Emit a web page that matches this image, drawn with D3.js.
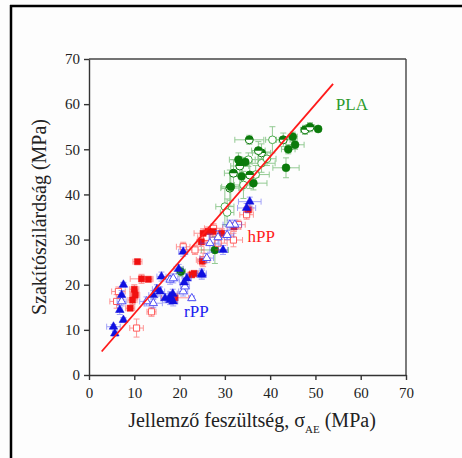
<!DOCTYPE html>
<html>
<head>
<meta charset="utf-8">
<script src="https://cdn.jsdelivr.net/npm/d3@7"></script>
<style>
  html, body { margin: 0; padding: 0; background: #fdfdfd; }
  svg { display: block; }
  svg text { font-family: 'Liberation Serif', 'Times New Roman', 'DejaVu Serif', serif; }
  .tick text { font-size: 15px; fill: #222; }
  .tick line, .domain { stroke: #333; stroke-width: 1.4; }
</style>
</head>
<body>
<svg id="chart" width="462" height="458"></svg>
<script>
// [x, y, xErr, yErr]
const plaFilled = [
  [43.5, 45.9, 2.9, 2.2], [44.0, 50.0, 1.5, 1.0], [45.5, 51.0, 2.0, 1.0],
  [45.0, 52.8, 1.0, 1.0], [50.6, 54.5, 0.5, 0.5], [36.3, 42.5, 3.0, 1.5],
  [33.7, 44.0, 2.5, 3.0], [31.3, 41.7, 2.0, 3.0], [34.5, 47.2, 1.5, 1.0],
  [27.8, 27.7, 3.0, 3.0], [20.3, 22.9, 1.0, 1.0], [33.0, 47.7, 2.0, 1.5]
];
const plaHalf = [
  [35.4, 52.1, 3.2, 1.0], [47.7, 54.3, 1.0, 1.0], [48.8, 54.9, 1.0, 1.0],
  [42.9, 52.1, 1.5, 1.5], [38.1, 49.2, 2.0, 2.0], [31.9, 44.7, 2.0, 3.0],
  [33.3, 46.3, 2.0, 2.0], [31.1, 41.4, 2.0, 4.0], [35.5, 44.3, 2.0, 3.0],
  [37.4, 49.7, 1.5, 2.0]
];
const plaOpen = [
  [40.5, 52.1, 1.5, 2.9], [38.1, 46.9, 3.0, 2.0], [35.2, 47.7, 1.5, 1.5],
  [34.1, 42.1, 2.0, 3.0], [30.0, 37.3, 2.0, 4.0], [36.8, 44.4, 3.0, 2.0],
  [39.3, 47.9, 2.0, 1.5], [30.5, 36.0, 1.5, 3.0]
];
const hppFilled = [
  [10.7, 25.1, 1.0, 0.5], [11.6, 21.3, 2.5, 1.0], [13.1, 21.2, 1.0, 0.5],
  [10.0, 19.0, 1.0, 1.0], [10.2, 17.7, 1.0, 1.0], [9.6, 16.6, 1.0, 1.0],
  [9.1, 14.8, 1.0, 0.5], [19.0, 17.1, 3.0, 1.0], [23.2, 22.5, 1.0, 0.5],
  [25.2, 31.4, 2.0, 1.0], [26.3, 31.8, 1.0, 1.0], [27.4, 31.8, 1.5, 1.0],
  [29.3, 31.4, 2.0, 1.0], [35.2, 36.6, 1.0, 1.0], [22.7, 22.2, 1.0, 0.5],
  [32.0, 32.8, 1.5, 1.0], [24.8, 29.5, 1.0, 1.0], [25.0, 25.2, 1.0, 1.0]
];
const hppOpen = [
  [6.5, 18.5, 1.5, 1.0], [6.1, 16.3, 1.5, 1.5], [13.8, 14.0, 1.0, 1.0],
  [10.5, 10.4, 1.5, 2.0], [20.8, 28.4, 1.5, 1.0], [25.2, 25.5, 1.5, 1.5],
  [23.4, 27.7, 2.0, 1.0], [28.5, 29.2, 2.0, 1.5], [31.9, 29.9, 2.0, 1.5],
  [34.8, 35.5, 1.5, 1.0], [33.0, 33.3, 1.5, 1.0], [26.0, 30.5, 2.0, 1.5],
  [27.5, 32.5, 2.0, 1.0], [10.0, 18.0, 1.0, 1.0]
];
const rppFilled = [
  [7.6, 20.0, 0.5, 0.5], [7.2, 17.7, 0.5, 1.0], [6.8, 14.4, 0.5, 1.0],
  [7.6, 12.2, 0.5, 0.5], [5.4, 10.7, 1.5, 0.5], [5.7, 9.2, 0.5, 0.5],
  [16.0, 21.8, 1.0, 1.0], [15.7, 18.5, 1.0, 1.0], [14.2, 17.7, 1.0, 1.0],
  [16.8, 17.0, 1.0, 1.0], [17.9, 17.4, 1.0, 1.0], [18.6, 16.3, 1.0, 1.0],
  [20.8, 27.3, 1.0, 1.0], [24.9, 22.5, 1.0, 1.0], [35.5, 38.4, 2.5, 1.0],
  [34.8, 37.0, 2.0, 1.0], [29.6, 27.7, 1.0, 1.0], [21.6, 21.4, 1.0, 1.0],
  [17.9, 16.6, 1.0, 1.0], [24.9, 22.2, 1.0, 1.0], [21.0, 20.5, 1.0, 1.0],
  [18.5, 18.0, 1.0, 1.0], [15.0, 19.0, 1.0, 1.0], [19.8, 23.5, 1.0, 1.0]
];
const rppOpen = [
  [7.2, 16.3, 1.0, 1.0], [14.2, 15.9, 2.0, 1.0], [12.7, 16.3, 1.5, 1.0],
  [17.9, 21.1, 2.0, 1.0], [20.8, 18.5, 1.0, 1.0], [22.7, 17.0, 0.5, 0.5],
  [32.2, 33.3, 1.5, 1.0], [31.1, 33.3, 1.5, 1.0], [26.7, 29.2, 2.0, 2.0],
  [26.0, 25.9, 1.5, 1.0], [21.2, 19.6, 1.0, 1.0], [18.6, 21.4, 1.0, 1.0],
  [28.5, 30.5, 2.0, 1.5], [30.5, 31.0, 1.5, 1.0]
];
const fitX = [2.8, 53.9];
const fitY = [5.2, 64.5];
const xTicks = [0, 10, 20, 30, 40, 50, 60, 70];
const yTicks = [0, 10, 20, 30, 40, 50, 60, 70];
const groupLabels = [
  { text: 'PLA', x: 54.5, y: 58.8, color: '#2a9a2a' },
  { text: 'hPP', x: 35.0, y: 29.4, color: '#ff2020' },
  { text: 'rPP', x: 21.0, y: 12.8, color: '#2020f0' }
];

const svg = d3.select('#chart');
const plotLeft = 89, plotRight = 406, plotTop = 59, plotBottom = 375;

const xScale = d3.scaleLinear().domain([0, 70]).range([plotLeft, plotRight]);
const yScale = d3.scaleLinear().domain([0, 70]).range([plotBottom, plotTop]);

// outer frame (top + left)
svg.append('line').attr('x1', 10).attr('x2', 462).attr('y1', 6).attr('y2', 6)
  .attr('stroke', '#000').attr('stroke-width', 2.5);
svg.append('line').attr('x1', 11).attr('x2', 11).attr('y1', 5).attr('y2', 458)
  .attr('stroke', '#000').attr('stroke-width', 2.5);

// box top + right
svg.append('line').attr('x1', plotLeft).attr('x2', plotRight).attr('y1', plotTop).attr('y2', plotTop)
  .attr('stroke', '#444').attr('stroke-width', 1.4);
svg.append('line').attr('x1', plotRight).attr('x2', plotRight).attr('y1', plotTop).attr('y2', plotBottom)
  .attr('stroke', '#444').attr('stroke-width', 1.4);

svg.append('g')
  .attr('transform', `translate(0, ${plotBottom})`)
  .call(d3.axisBottom(xScale).tickValues(xTicks).tickSize(5).tickPadding(4).tickSizeOuter(0))
  .selectAll('text').attr('dy', '0.95em');

svg.append('g')
  .attr('transform', `translate(${plotLeft}, 0)`)
  .call(d3.axisLeft(yScale).tickValues(yTicks).tickSize(5).tickPadding(4).tickSizeOuter(0));

const plot = svg.append('g');

function drawErrors(data, color) {
  const g = plot.append('g').attr('stroke', color).attr('stroke-width', 1).attr('opacity', 0.5).attr('fill', 'none');
  data.forEach(([x, y, ex, ey]) => {
    const cx = xScale(x), cy = yScale(y);
    const x0 = xScale(x - ex), x1 = xScale(x + ex);
    const y0 = yScale(y - ey), y1 = yScale(y + ey);
    g.append('path').attr('d',
      `M${x0},${cy}H${x1}M${x0},${cy - 3}V${cy + 3}M${x1},${cy - 3}V${cy + 3}` +
      `M${cx},${y0}V${y1}M${cx - 3},${y0}H${cx + 3}M${cx - 3},${y1}H${cx + 3}`);
  });
}

function drawMarkers(data, type, size, fill, stroke, strokeWidth) {
  plot.append('g').selectAll('path')
    .data(data)
    .enter()
    .append('path')
    .attr('transform', d => `translate(${xScale(d[0])}, ${yScale(d[1])})`)
    .attr('d', d3.symbol().type(type).size(size))
    .attr('fill', fill)
    .attr('stroke', stroke)
    .attr('stroke-width', strokeWidth);
}

function drawHalf(data, color) {
  const g = plot.append('g');
  const halfArc = d3.arc().innerRadius(0).outerRadius(4).startAngle(-Math.PI / 2).endAngle(Math.PI / 2);
  data.forEach(([x, y]) => {
    const t = `translate(${xScale(x)}, ${yScale(y)})`;
    g.append('circle').attr('transform', t).attr('r', 4)
      .attr('fill', '#fff').attr('stroke', color).attr('stroke-width', 1);
    g.append('path').attr('transform', t).attr('d', halfArc()).attr('fill', color);
  });
}

// PLA
drawErrors(plaFilled.concat(plaHalf, plaOpen), '#2e9a2e');
drawMarkers(plaOpen, d3.symbolCircle, 46, '#fff', '#4aaa4a', 1);
drawHalf(plaHalf, '#0b7a0b');
drawMarkers(plaFilled, d3.symbolCircle, 50, '#0b7a0b', '#0b7a0b', 0.5);

// hPP
drawErrors(hppFilled.concat(hppOpen), '#ff3030');
drawMarkers(hppOpen, d3.symbolSquare, 38, '#fff', '#ff5a5a', 1);
drawMarkers(hppFilled, d3.symbolSquare, 38, '#f01010', '#f01010', 0.5);

// rPP
drawErrors(rppFilled.concat(rppOpen), '#4a4af5');
drawMarkers(rppOpen, d3.symbolTriangle, 30, '#fff', '#5050f5', 1);
drawMarkers(rppFilled, d3.symbolTriangle, 32, '#1010e0', '#1010e0', 0.5);

// fit line
svg.append('line')
  .attr('x1', xScale(fitX[0])).attr('y1', yScale(fitY[0]))
  .attr('x2', xScale(fitX[1])).attr('y2', yScale(fitY[1]))
  .attr('stroke', '#ff1a1a').attr('stroke-width', 1.8);

// group labels
groupLabels.forEach(l => {
  svg.append('text')
    .attr('x', xScale(l.x)).attr('y', yScale(l.y))
    .attr('font-size', 17)
    .attr('fill', l.color).text(l.text);
});

// axis titles
const xTitle = svg.append('text')
  .attr('x', 252).attr('y', 427)
  .attr('text-anchor', 'middle')
  .attr('font-size', 20).attr('fill', '#222');
xTitle.append('tspan').text('Jellemző feszültség, σ');
xTitle.append('tspan').attr('font-size', 11).attr('dy', 6).text('AE');
xTitle.append('tspan').attr('dy', -6).text(' (MPa)');

svg.append('text')
  .attr('transform', `translate(46, ${(plotTop + plotBottom) / 2}) rotate(-90)`)
  .attr('text-anchor', 'middle')
  .attr('font-size', 20).attr('fill', '#222')
  .text('Szakítószilárdság (MPa)');
</script>
</body>
</html>
